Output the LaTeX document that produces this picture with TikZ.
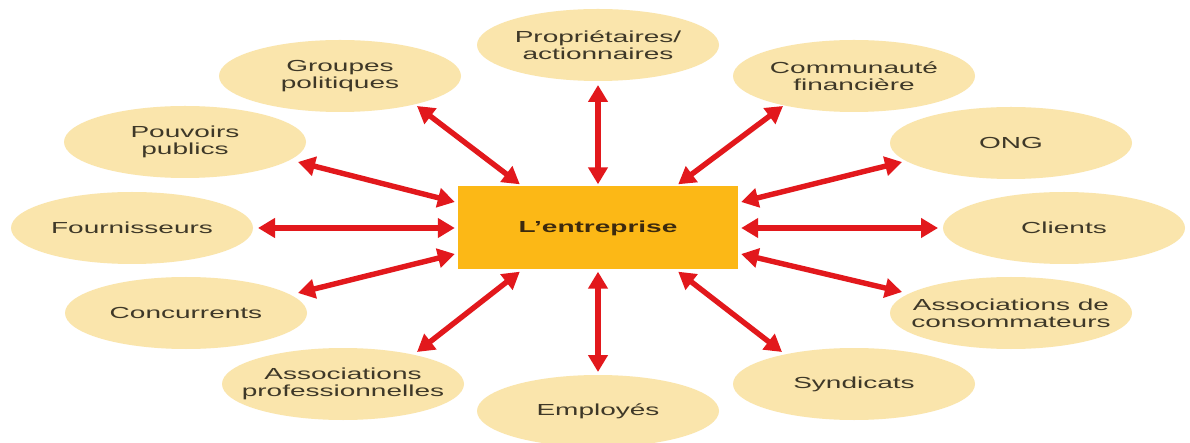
\documentclass[tikz,border=0pt]{standalone}
\usepackage{fontspec}
\usetikzlibrary{arrows.meta,calc,shapes.geometric}
\newfontfamily\labfont[FakeStretch=1.75]{Liberation Sans}
\definecolor{partyfill}{RGB}{250,229,172}
\definecolor{corefill}{RGB}{252,184,22}
\definecolor{linkred}{RGB}{226,24,28}
\definecolor{labtext}{RGB}{62,56,40}
\definecolor{coretext}{RGB}{60,42,14}
\begin{document}
\begin{tikzpicture}[x=1pt,y=-1pt,
  party/.style={ellipse,fill=partyfill,minimum width=242pt,minimum height=72pt,
    inner xsep=-30pt,inner ysep=0pt,align=center,text=labtext,
    font=\labfont\fontsize{16}{17}\selectfont},
  core/.style={rectangle,fill=corefill,minimum width=280pt,minimum height=83pt,
    inner sep=0pt,text=coretext,font=\labfont\bfseries\fontsize{16}{17}\selectfont},
  link/.style={draw=linkred,line width=5.4pt,
    {Triangle[length=17pt,width=19pt]}-{Triangle[length=17pt,width=19pt]}}]
\useasboundingbox (0,0) rectangle (1190,443);
\fill[white] (0,0) rectangle (1190,443);
\clip (0,0) rectangle (1190,443);

% stakeholders around the firm
\node[party] (P)  at (598,45)  {Propriétaires/\\actionnaires};
\node[party] (GP) at (340,76)  {Groupes\\politiques};
\node[party] (CF) at (854,76)  {Communauté\\financière};
\node[party] (PP) at (185,142) {Pouvoirs\\publics};
\node[party] (NG) at (1011,143) {ONG};
\node[party] (F)  at (132,228) {Fournisseurs};
\node[party] (C)  at (1064,228) {Clients};
\node[party] (CO) at (186,313) {Concurrents};
\node[party] (AC) at (1011,313) {Associations de\\consommateurs};
\node[party] (AP) at (343,384) {Associations\\professionnelles};
\node[party] (S)  at (854,384) {Syndicats};
\node[party] (EM) at (598,411) {Employés};

% the firm
\node[core] (E) at (598,228) {L’entreprise};

% two-way links
\draw[link] ($(E.north)+(0,-2)$)          -- ($(P)+(0,40)$);
\draw[link] ($(E.north west)+(62,-2)$)    -- ($(GP)+(77,30)$);
\draw[link] ($(E.north east)+(-60,-2)$)   -- ($(CF)+(-71,30)$);
\draw[link] ($(E.west)+(-3,-26)$)         -- ($(PP)+(113,20)$);
\draw[link] ($(E.east)+(3,-26)$)          -- ($(NG)+(-109,19)$);
\draw[link] ($(E.west)+(-3,0)$)           -- ($(F)+(126,0)$);
\draw[link] ($(E.east)+(3,0)$)            -- ($(C)+(-126,0)$);
\draw[link] ($(E.west)+(-3,26)$)          -- ($(CO)+(112,-20)$);
\draw[link] ($(E.east)+(3,26)$)           -- ($(AC)+(-109,-21)$);
\draw[link] ($(E.south west)+(62,2)$)     -- ($(AP)+(74,-32)$);
\draw[link] ($(E.south east)+(-60,2)$)    -- ($(S)+(-72,-32)$);
\draw[link] ($(E.south)+(0,2)$)           -- ($(EM)+(0,-39)$);
\end{tikzpicture}
\end{document}
